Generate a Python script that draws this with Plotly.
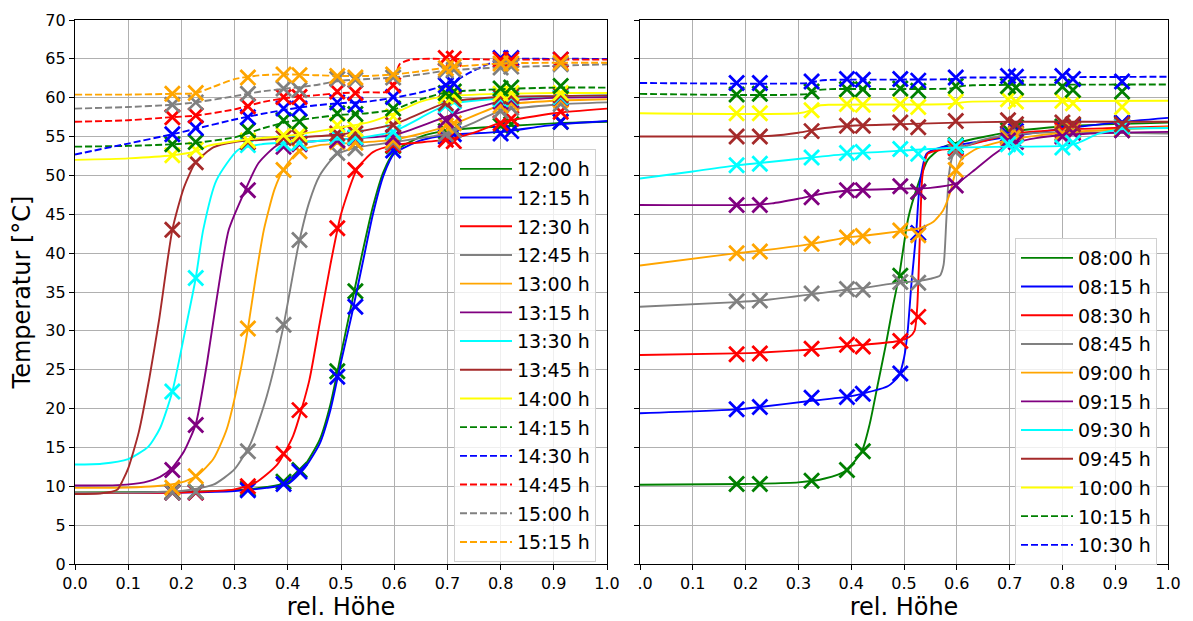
import plotly.graph_objects as go

# ---------------- data ----------------
SENSORS = [0.183, 0.227, 0.325, 0.392, 0.422, 0.493, 0.527, 0.598, 0.697, 0.712, 0.800, 0.820, 0.913]

LEFT_TIMES = ["12:00 h", "12:15 h", "12:30 h", "12:45 h", "13:00 h", "13:15 h", "13:30 h",
              "13:45 h", "14:00 h", "14:15 h", "14:30 h", "14:45 h", "15:00 h", "15:15 h"]

LEFT_MARKERS = [
    [9.3, 9.3, 9.7, 10.6, 12.1, 24.8, 35.1, 53.8, 55.7, 55.9, 56.4, 56.6, 56.9],
    [9.2, 9.2, 9.5, 10.3, 11.9, 24.1, 33.1, 53.2, 55.0, 55.3, 55.4, 55.7, 56.9],
    [9.2, 9.2, 10.0, 14.2, 19.8, 43.2, 50.7, 53.9, 54.6, 54.4, 56.7, 57.3, 58.2],
    [9.2, 9.3, 14.5, 30.8, 41.7, 52.9, 53.5, 54.2, 55.3, 55.8, 58.3, 58.7, 59.2],
    [9.8, 11.3, 30.3, 50.7, 53.1, 54.3, 54.2, 54.5, 56.4, 56.7, 59.0, 59.3, 59.7],
    [12.1, 17.9, 48.1, 53.7, 54.0, 54.5, 54.8, 54.9, 57.1, 57.9, 59.5, 59.7, 60.0],
    [22.2, 36.8, 53.9, 54.1, 54.2, 55.0, 54.9, 55.6, 59.0, 59.5, 59.8, 60.0, 60.1],
    [43.0, 51.7, 54.3, 54.8, 54.9, 55.4, 55.4, 56.5, 59.3, 59.8, 60.1, 60.2, 60.3],
    [52.6, 53.3, 54.5, 55.2, 55.3, 56.5, 56.0, 57.6, 60.2, 60.3, 60.5, 60.6, 60.6],
    [54.0, 54.3, 55.8, 57.1, 56.9, 58.0, 57.9, 58.6, 60.6, 60.8, 61.2, 61.3, 61.5],
    [55.3, 56.1, 57.5, 58.6, 58.6, 59.4, 59.1, 60.1, 61.6, 61.8, 65.1, 65.1, 64.9],
    [57.5, 57.7, 58.9, 60.1, 60.1, 60.8, 60.6, 61.6, 65.1, 65.0, 64.9, 64.9, 64.9],
    [59.1, 59.4, 60.5, 61.2, 61.0, 62.4, 62.3, 62.6, 63.5, 63.6, 63.9, 64.0, 64.3],
    [60.5, 60.6, 62.6, 63.0, 62.9, 62.8, 62.6, 63.0, 63.8, 64.0, 64.4, 64.4, 64.5],
]

LEFT_LINE_X = [
    [0, 0.1, 0.2, 0.3, 0.36, 0.4, 0.43, 0.46, 0.48, 0.5, 0.52, 0.54, 0.56, 0.58, 0.6, 0.65, 0.7, 0.8, 0.9, 1.0],
    [0, 0.1, 0.2, 0.3, 0.36, 0.4, 0.43, 0.46, 0.48, 0.5, 0.52, 0.54, 0.56, 0.58, 0.6, 0.65, 0.7, 0.8, 0.9, 1.0],
    [0, 0.1, 0.2, 0.3, 0.34, 0.38, 0.41, 0.44, 0.46, 0.48, 0.5, 0.53, 0.56, 0.6, 0.7, 0.75, 0.8, 0.9, 1.0],
    [0, 0.1, 0.2, 0.26, 0.3, 0.33, 0.36, 0.39, 0.42, 0.44, 0.46, 0.49, 0.53, 0.6, 0.7, 0.75, 0.8, 0.9, 1.0],
    [0, 0.1, 0.15, 0.2, 0.23, 0.26, 0.285, 0.31, 0.325, 0.34, 0.355, 0.375, 0.392, 0.42, 0.46, 0.53, 0.6, 0.7, 0.8, 0.9, 1.0],
    [0, 0.08, 0.13, 0.16, 0.183, 0.205, 0.227, 0.248, 0.267, 0.289, 0.32, 0.345, 0.383, 0.45, 0.53, 0.6, 0.7, 0.8, 0.9, 1.0],
    [0, 0.05, 0.1, 0.138, 0.16, 0.183, 0.207, 0.227, 0.241, 0.266, 0.307, 0.35, 0.45, 0.53, 0.6, 0.7, 0.8, 0.9, 1.0],
    [0, 0.05, 0.08, 0.09, 0.1, 0.12, 0.14, 0.158, 0.183, 0.205, 0.227, 0.26, 0.3, 0.4, 0.5, 0.6, 0.7, 0.8, 0.9, 1.0],
    [0, 0.1, 0.183, 0.227, 0.25, 0.3, 0.35, 0.4, 0.45, 0.5, 0.55, 0.6, 0.65, 0.7, 0.8, 0.9, 1.0],
    [0, 0.1, 0.183, 0.227, 0.3, 0.35, 0.4, 0.45, 0.5, 0.55, 0.6, 0.65, 0.7, 0.8, 0.9, 1.0],
    [0, 0.1, 0.183, 0.227, 0.3, 0.35, 0.4, 0.45, 0.5, 0.55, 0.6, 0.65, 0.7, 0.75, 0.8, 0.9, 1.0],
    [0, 0.1, 0.183, 0.227, 0.3, 0.35, 0.4, 0.45, 0.5, 0.55, 0.59, 0.6, 0.61, 0.63, 0.7, 0.8, 0.9, 1.0],
    [0, 0.1, 0.183, 0.227, 0.3, 0.35, 0.4, 0.45, 0.5, 0.55, 0.6, 0.65, 0.7, 0.8, 0.9, 1.0],
    [0, 0.1, 0.183, 0.227, 0.26, 0.3, 0.35, 0.4, 0.45, 0.5, 0.55, 0.6, 0.65, 0.7, 0.8, 0.9, 1.0],
]

LEFT_LINE_Y = [
    [9.2, 9.25, 9.3, 9.5, 9.9, 10.5, 12.5, 16.0, 20.5, 27.0, 33.5, 40.0, 46.0, 50.5, 53.0, 55.0, 55.8, 56.3, 56.7, 56.9],
    [9.1, 9.15, 9.2, 9.4, 9.8, 10.3, 12.2, 15.5, 19.8, 26.0, 32.0, 38.5, 45.0, 50.0, 52.8, 54.5, 55.2, 55.6, 56.5, 57.0],
    [9.1, 9.15, 9.2, 9.6, 10.5, 12.8, 16.5, 23.5, 31.0, 38.5, 45.0, 50.8, 53.0, 53.9, 54.6, 55.5, 56.8, 58.0, 58.6],
    [9.2, 9.2, 9.4, 10.2, 12.2, 15.5, 21.5, 30.0, 41.0, 46.5, 50.0, 52.6, 53.6, 54.3, 55.4, 56.8, 58.3, 59.1, 59.4],
    [9.8, 9.85, 10.0, 10.5, 11.4, 13.5, 17.3, 24.5, 30.3, 37.0, 43.0, 48.2, 50.8, 53.1, 53.9, 54.2, 54.6, 56.3, 59.0, 59.6, 59.8],
    [10.1, 10.15, 10.5, 11.2, 12.4, 14.5, 18.0, 25.8, 34.4, 43.0, 48.1, 51.6, 54.0, 54.4, 54.8, 55.2, 57.6, 59.5, 60.0, 60.1],
    [12.8, 12.9, 13.5, 15.1, 17.5, 22.2, 30.0, 36.8, 43.0, 49.4, 53.3, 54.0, 54.4, 54.8, 55.7, 59.1, 59.9, 60.2, 60.3],
    [9.0, 9.1, 9.6, 10.8, 12.3, 17.0, 24.0, 31.4, 43.0, 48.5, 51.7, 53.6, 54.3, 54.8, 55.3, 56.6, 59.4, 60.1, 60.2, 60.3],
    [52.0, 52.2, 52.6, 53.1, 53.8, 54.4, 54.8, 55.1, 55.6, 56.2, 56.8, 58.0, 59.5, 60.2, 60.5, 60.6, 60.6],
    [53.7, 53.8, 54.0, 54.2, 54.9, 56.0, 56.9, 57.4, 57.8, 58.0, 58.5, 59.8, 60.7, 61.1, 61.3, 61.3],
    [52.7, 54.1, 55.3, 56.0, 57.2, 57.9, 58.5, 59.0, 59.3, 59.5, 60.0, 60.7, 61.7, 63.5, 64.9, 65.0, 65.0],
    [56.9, 57.1, 57.5, 57.7, 58.5, 59.4, 60.0, 60.3, 60.6, 60.7, 60.8, 62.0, 64.3, 64.9, 65.0, 64.9, 64.9, 64.9],
    [58.6, 58.8, 59.1, 59.4, 60.2, 60.8, 61.2, 61.6, 62.2, 62.4, 62.6, 63.0, 63.5, 63.9, 64.1, 64.3],
    [60.4, 60.4, 60.5, 60.6, 61.4, 62.4, 62.9, 63.0, 62.9, 62.8, 62.8, 63.0, 63.4, 63.9, 64.4, 64.5, 64.5],
]

RIGHT_TIMES = ["08:00 h", "08:15 h", "08:30 h", "08:45 h", "09:00 h", "09:15 h",
               "09:30 h", "09:45 h", "10:00 h", "10:15 h", "10:30 h"]

RIGHT_MARKERS = [
    [10.3, 10.3, 10.7, 12.1, 14.5, 37.1, 47.9, 53.9, 55.8, 56.2, 56.3, 56.5, 56.7],
    [19.9, 20.2, 21.4, 21.5, 21.9, 24.5, 42.6, 53.7, 55.3, 55.7, 56.0, 56.3, 56.8],
    [27.0, 27.1, 27.7, 28.2, 28.0, 28.7, 31.8, 53.5, 55.0, 55.4, 55.8, 56.0, 56.4],
    [33.8, 33.9, 34.8, 35.4, 35.3, 36.3, 36.2, 53.0, 55.0, 55.3, 55.5, 55.8, 55.8],
    [40.0, 40.2, 41.2, 42.0, 42.2, 42.9, 42.3, 50.7, 54.8, 55.2, 55.4, 55.7, 56.0],
    [46.2, 46.2, 47.2, 48.1, 48.1, 48.6, 47.9, 48.7, 54.5, 54.3, 55.0, 55.5, 55.8],
    [51.3, 51.5, 52.3, 52.9, 53.0, 53.4, 52.8, 53.8, 54.0, 53.6, 53.6, 54.2, 56.3],
    [55.0, 55.0, 55.7, 56.4, 56.4, 56.8, 56.2, 57.0, 57.1, 56.6, 56.8, 56.6, 56.6],
    [58.0, 58.0, 58.4, 59.2, 59.1, 59.2, 58.8, 59.5, 59.8, 59.5, 59.6, 59.3, 58.8],
    [60.4, 60.5, 60.8, 61.1, 61.1, 61.2, 60.9, 61.5, 61.5, 61.3, 61.4, 61.0, 60.8],
    [61.9, 61.9, 62.1, 62.4, 62.3, 62.4, 62.2, 62.6, 62.8, 62.7, 62.8, 62.4, 62.1],
]

RIGHT_LINE_X = [
    [0, 0.2, 0.3, 0.35, 0.39, 0.42, 0.435, 0.45, 0.465, 0.48, 0.491, 0.508, 0.525, 0.545, 0.57, 0.6, 0.7, 0.8, 0.9, 1.0],
    [0, 0.183, 0.227, 0.325, 0.39, 0.42, 0.47, 0.49, 0.5, 0.507, 0.514, 0.523, 0.53, 0.543, 0.57, 0.6, 0.7, 0.8, 0.9, 1.0],
    [0, 0.183, 0.227, 0.325, 0.39, 0.42, 0.49, 0.51, 0.52, 0.525, 0.53, 0.535, 0.545, 0.57, 0.6, 0.7, 0.8, 0.9, 1.0],
    [0, 0.183, 0.227, 0.325, 0.39, 0.42, 0.49, 0.525, 0.55, 0.568, 0.575, 0.58, 0.585, 0.592, 0.6, 0.65, 0.7, 0.8, 0.9, 1.0],
    [0, 0.183, 0.227, 0.325, 0.39, 0.42, 0.49, 0.53, 0.555, 0.574, 0.587, 0.597, 0.61, 0.64, 0.7, 0.8, 0.9, 1.0],
    [0, 0.2, 0.25, 0.3, 0.35, 0.4, 0.5, 0.55, 0.6, 0.63, 0.67, 0.7, 0.75, 0.8, 0.9, 1.0],
    [0, 0.1, 0.183, 0.227, 0.325, 0.4, 0.5, 0.55, 0.6, 0.7, 0.8, 0.83, 0.87, 0.92, 1.0],
    [0, 0.2, 0.25, 0.3, 0.35, 0.4, 0.5, 0.6, 0.7, 0.8, 0.9, 1.0],
    [0, 0.3, 0.32, 0.34, 0.36, 0.59, 0.61, 0.63, 1.0],
    [0, 0.32, 0.34, 0.36, 0.59, 0.61, 0.63, 1.0],
    [0, 0.32, 0.34, 0.36, 0.59, 0.61, 0.63, 1.0],
]

RIGHT_LINE_Y = [
    [10.2, 10.3, 10.5, 11.0, 12.0, 14.5, 18.0, 23.0, 28.0, 33.5, 37.2, 44.5, 48.5, 52.0, 53.5, 54.2, 55.6, 56.3, 56.6, 56.8],
    [19.4, 19.9, 20.2, 21.0, 21.5, 21.9, 22.9, 24.2, 26.5, 30.0, 36.0, 42.5, 49.0, 52.8, 53.6, 53.9, 55.0, 56.0, 56.8, 57.4],
    [26.9, 27.1, 27.2, 27.6, 28.0, 28.2, 28.7, 29.2, 30.0, 33.0, 42.0, 50.0, 52.8, 53.3, 53.5, 55.3, 55.9, 56.1, 56.3],
    [33.1, 33.7, 33.9, 34.7, 35.3, 35.5, 36.2, 36.4, 36.7, 37.1, 38.5, 44.0, 50.0, 52.5, 53.2, 54.6, 55.2, 55.6, 55.5, 55.4],
    [38.4, 40.0, 40.3, 41.2, 42.0, 42.2, 42.8, 43.2, 44.0, 45.5, 47.7, 50.3, 52.2, 53.5, 54.6, 55.5, 55.9, 56.2],
    [46.2, 46.2, 46.4, 47.0, 47.7, 48.1, 48.3, 48.4, 49.0, 50.5, 52.7, 54.0, 54.8, 55.2, 55.5, 55.6],
    [49.6, 50.5, 51.3, 51.6, 52.3, 52.8, 53.2, 53.4, 53.6, 53.7, 53.8, 54.2, 55.4, 56.0, 56.1],
    [55.0, 55.0, 55.1, 55.5, 56.1, 56.4, 56.6, 56.8, 56.9, 56.9, 56.9, 56.9],
    [58.0, 58.0, 58.3, 59.0, 59.1, 59.2, 59.4, 59.5, 59.6],
    [60.5, 60.5, 61.0, 61.1, 61.2, 61.5, 61.6, 61.7],
    [61.9, 61.9, 62.2, 62.3, 62.4, 62.6, 62.6, 62.7],
]

X_TICKS = [0.0, 0.1, 0.2, 0.3, 0.4, 0.5, 0.6, 0.7, 0.8, 0.9, 1.0]
X_TICK_LABELS = ["0.0", "0.1", "0.2", "0.3", "0.4", "0.5", "0.6", "0.7", "0.8", "0.9", "1.0"]
Y_TICKS = [0, 5, 10, 15, 20, 25, 30, 35, 40, 45, 50, 55, 60, 65, 70]

# ---------------- styles ----------------
LEFT_COLORS = ["#008000", "#0000ff", "#ff0000", "#808080", "#ffa500", "#800080", "#00ffff",
               "#a52a2a", "#ffff00", "#008000", "#0000ff", "#ff0000", "#808080", "#ffa500"]
LEFT_DASH = ["solid"] * 9 + ["7px,3px"] * 5
RIGHT_COLORS = ["#008000", "#0000ff", "#ff0000", "#808080", "#ffa500", "#800080", "#00ffff",
                "#a52a2a", "#ffff00", "#008000", "#0000ff"]
RIGHT_DASH = ["solid"] * 9 + ["7px,3px"] * 2

FONT = "DejaVu Sans"
W, H = 1193, 621
ML, MR, MT, MB = 75, 25, 20, 57
PW = W - ML - MR
PH = H - MT - MB
LEFT_DOMAIN = [0, (607 - ML) / PW]
RIGHT_DOMAIN = [(640 - ML) / PW, 1]

fig = go.Figure()


def add_panel(times, markers, lx, ly, colors, dashes, xa, ya, legend, prefix):
    for i, name in enumerate(times):
        grp = f"{prefix}{i}"
        fig.add_trace(go.Scatter(
            x=lx[i], y=ly[i], mode="lines", name=name,
            line=dict(color=colors[i], width=1.9, dash=dashes[i], shape="spline", smoothing=0.6),
            xaxis=xa, yaxis=ya, legend=legend, legendgroup=grp, hoverinfo="skip"))
        fig.add_trace(go.Scatter(
            x=SENSORS, y=markers[i], mode="markers", showlegend=False,
            marker=dict(symbol="x-thin", size=15, color=colors[i],
                        line=dict(width=2.8, color=colors[i])),
            xaxis=xa, yaxis=ya, legendgroup=grp, hoverinfo="skip"))


add_panel(LEFT_TIMES, LEFT_MARKERS, LEFT_LINE_X, LEFT_LINE_Y, LEFT_COLORS, LEFT_DASH,
          "x", "y", "legend", "L")
add_panel(RIGHT_TIMES, RIGHT_MARKERS, RIGHT_LINE_X, RIGHT_LINE_Y, RIGHT_COLORS, RIGHT_DASH,
          "x2", "y2", "legend2", "R")

axis_common = dict(
    showgrid=True, gridcolor="#b0b0b0", gridwidth=1.3, zeroline=False,
    showline=True, linecolor="black", linewidth=1.3, mirror=True,
    ticks="outside", ticklen=5, tickwidth=1.2, tickcolor="black",
    tickfont=dict(family=FONT, size=16, color="black"), automargin=False,
)

right_labels = ["<span style='color:rgba(0,0,0,0)'>0</span>.0"] + X_TICK_LABELS[1:]

legend_common = dict(
    bgcolor="rgba(255,255,255,0.8)", bordercolor="#d0d0d0", borderwidth=1,
    font=dict(family=FONT, size=19, color="black"),
    tracegroupgap=1.0, xanchor="left", yanchor="top", itemwidth=52,
)

TITLE_FONT = dict(family=FONT, size=24, color="black")

fig.update_layout(
    width=W, height=H,
    margin=dict(l=ML, r=MR, t=MT, b=MB, pad=0, autoexpand=False),
    paper_bgcolor="white", plot_bgcolor="white",
    font=dict(family=FONT, size=16, color="black"),
    showlegend=True,
    xaxis=dict(domain=LEFT_DOMAIN, range=[0, 1], tickvals=X_TICKS, ticktext=X_TICK_LABELS,
               anchor="y", title=dict(text="rel. Höhe", font=TITLE_FONT, standoff=8),
               **axis_common),
    yaxis=dict(domain=[0, 1], range=[0, 70], tickvals=Y_TICKS, anchor="x",
               title=dict(text="Temperatur [°C]", font=TITLE_FONT, standoff=7),
               **axis_common),
    xaxis2=dict(domain=RIGHT_DOMAIN, range=[0, 1], tickvals=X_TICKS, ticktext=right_labels,
                anchor="y2", title=dict(text="rel. Höhe", font=TITLE_FONT, standoff=8),
                **axis_common),
    yaxis2=dict(domain=[0, 1], range=[0, 70], tickvals=Y_TICKS, anchor="x2", matches="y",
                showticklabels=False, **axis_common),
    legend=dict(x=(454 - ML) / PW, y=1 - (149 - MT) / PH, **legend_common),
    legend2=dict(x=(1015 - ML) / PW, y=1 - (238 - MT) / PH, **legend_common),
)

fig.write_html("out.html")
